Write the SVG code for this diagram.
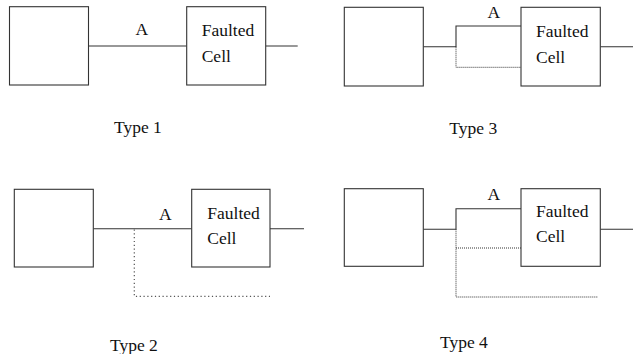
<svg xmlns="http://www.w3.org/2000/svg" width="633" height="354" viewBox="0 0 633 354">
<style>
.box{fill:#fff;stroke:#333;stroke-width:1.1}
.ln{fill:none;stroke:#333;stroke-width:1.1}
.dot{fill:none;stroke:#333;stroke-width:1;stroke-dasharray:1,1}
.dot2{fill:none;stroke:#555;stroke-width:1.2;stroke-dasharray:1.2,2.6}
text{font-family:"Liberation Serif","Times New Roman",serif;font-size:17.5px;fill:#111}
</style>
<rect width="633" height="354" fill="#fff"/>
<g id="connectors">
  <!-- Type 1 -->
  <path class="ln" d="M88.5,46 H186.7 M265.7,46 H297.7"/>
  <!-- Type 3 -->
  <path class="ln" d="M423.3,46.7 H456 V26 H521 M600.3,46.7 H633"/>
  <path class="dot" d="M456,46.7 V67.3 H521"/>
  <!-- Type 2 -->
  <path class="ln" d="M93.3,228.7 H191.7 M270,228.7 H304"/>
  <path class="dot2" d="M134.3,229.5 V296.3 H270"/>
  <!-- Type 4 -->
  <path class="ln" d="M423.3,229.3 H456 V208.7 H521 M600.3,229.3 H633"/>
  <path class="dot" d="M456,229.3 V297 H597.7 M456,248 H521"/>
</g>
<g id="type1-source"><rect class="box" x="9.5" y="6.7" width="79" height="78.3"/></g>
<g id="type1-faulted"><rect class="box" x="186.7" y="6.7" width="79" height="78.3"/><text x="201.7" y="36">Faulted</text><text x="201.7" y="62">Cell</text></g>
<g id="type1-labels"><text x="135.5" y="35">A</text><text x="114" y="133">Type 1</text></g>

<g id="type3-source"><rect class="box" x="344.3" y="7.3" width="79" height="78.7"/></g>
<g id="type3-faulted"><rect class="box" x="521" y="7.3" width="79.3" height="78.7"/><text x="536" y="37">Faulted</text><text x="536" y="62.7">Cell</text></g>
<g id="type3-labels"><text x="487.5" y="18.3">A</text><text x="449.3" y="134">Type 3</text></g>

<g id="type2-source"><rect class="box" x="14.3" y="189.3" width="79" height="77.7"/></g>
<g id="type2-faulted"><rect class="box" x="191.7" y="189.3" width="78.3" height="77.7"/><text x="207.3" y="218.7">Faulted</text><text x="207.3" y="243.7">Cell</text></g>
<g id="type2-labels"><text x="159" y="219.7">A</text><text x="110" y="351">Type 2</text></g>

<g id="type4-source"><rect class="box" x="344.3" y="188.7" width="79" height="77.6"/></g>
<g id="type4-faulted"><rect class="box" x="521" y="188.7" width="79.3" height="77.6"/><text x="536" y="217">Faulted</text><text x="536" y="242">Cell</text></g>
<g id="type4-labels"><text x="487.5" y="200.3">A</text><text x="440" y="347.7">Type 4</text></g>
</svg>
